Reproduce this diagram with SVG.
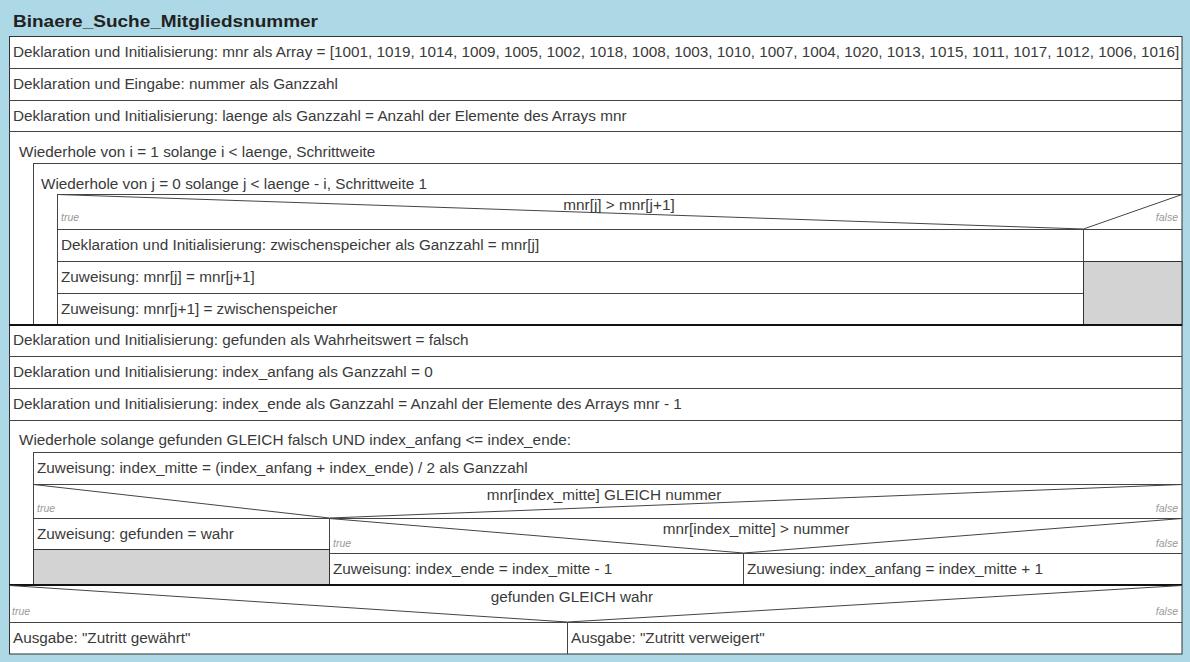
<svg xmlns="http://www.w3.org/2000/svg" width="1190" height="662" viewBox="0 0 1190 662">
<style>
.t{font-family:"Liberation Sans",Arial,sans-serif;font-size:15.3px;fill:#3a3a3a}
.ttl{font-family:"Liberation Sans",Arial,sans-serif;font-size:17px;font-weight:bold;fill:#222}
.lb{font-family:"Liberation Sans",Arial,sans-serif;font-size:10.5px;font-style:italic;fill:#999}
.c{text-anchor:middle}
.r{text-anchor:end}
.box{fill:#fff;stroke:#333;stroke-width:1}
.ln{stroke:#444;stroke-width:1;fill:none}
.thk{stroke:#111;stroke-width:2;fill:none}
.gray{fill:#d3d3d3;stroke:#333;stroke-width:1}
</style>
<rect x="0" y="0" width="1190" height="662" fill="#add8e6"/>
<text class="ttl" x="13" y="27" textLength="305" lengthAdjust="spacingAndGlyphs">Binaere_Suche_Mitgliedsnummer</text>
<rect class="box" x="9.5" y="36.5" width="1172.5" height="617.5"/>

<g id="decl_mnr">
<line class="ln" x1="9" y1="68.5" x2="1182" y2="68.5"/>
<text class="t" x="13" y="57">Deklaration und Initialisierung: mnr als Array = [1001, 1019, 1014, 1009, 1005, 1002, 1018, 1008, 1003, 1010, 1007, 1004, 1020, 1013, 1015, 1011, 1017, 1012, 1006, 1016]</text>
</g>
<g id="decl_nummer">
<line class="ln" x1="9" y1="100.5" x2="1182" y2="100.5"/>
<text class="t" x="13" y="89">Deklaration und Eingabe: nummer als Ganzzahl</text>
</g>
<g id="decl_laenge">
<line class="ln" x1="9" y1="131.5" x2="1182" y2="131.5"/>
<text class="t" x="13" y="121">Deklaration und Initialisierung: laenge als Ganzzahl = Anzahl der Elemente des Arrays mnr</text>
</g>

<g id="loop_i">
<text class="t" x="19" y="157">Wiederhole von i = 1 solange i &lt; laenge, Schrittweite</text>
<line class="ln" x1="33.5" y1="163" x2="33.5" y2="325"/>
</g>
<g id="loop_j">
<line class="ln" x1="33" y1="163.5" x2="1182" y2="163.5"/>
<text class="t" x="41" y="189">Wiederhole von j = 0 solange j &lt; laenge - i, Schrittweite 1</text>
<line class="ln" x1="57.5" y1="194" x2="57.5" y2="325"/>
</g>
<g id="if_swap">
<line class="ln" x1="57" y1="194.5" x2="1182" y2="194.5"/>
<polyline class="ln" points="57.5,194.5 1083.5,229 1182,194.5"/>
<line class="ln" x1="57" y1="229.5" x2="1182" y2="229.5"/>
<text class="t c" x="619" y="210">mnr[j] &gt; mnr[j+1]</text>
<text class="lb" x="61" y="221">true</text>
<text class="lb r" x="1178" y="221">false</text>
<line class="ln" x1="1083.5" y1="229" x2="1083.5" y2="325"/>
<rect class="gray" x="1083.5" y="261.5" width="98.5" height="63.5"/>
</g>
<g id="swap1">
<line class="ln" x1="57" y1="261.5" x2="1083" y2="261.5"/>
<text class="t" x="61" y="250">Deklaration und Initialisierung: zwischenspeicher als Ganzzahl = mnr[j]</text>
</g>
<g id="swap2">
<line class="ln" x1="57" y1="293.5" x2="1083" y2="293.5"/>
<text class="t" x="61" y="282">Zuweisung: mnr[j] = mnr[j+1]</text>
</g>
<g id="swap3">
<text class="t" x="61" y="314">Zuweisung: mnr[j+1] = zwischenspeicher</text>
</g>
<line class="thk" x1="9" y1="325" x2="1182" y2="325"/>

<g id="decl_gefunden">
<line class="ln" x1="9" y1="356.5" x2="1182" y2="356.5"/>
<text class="t" x="13" y="345">Deklaration und Initialisierung: gefunden als Wahrheitswert = falsch</text>
</g>
<g id="decl_anfang">
<line class="ln" x1="9" y1="388.5" x2="1182" y2="388.5"/>
<text class="t" x="13" y="377">Deklaration und Initialisierung: index_anfang als Ganzzahl = 0</text>
</g>
<g id="decl_ende">
<line class="ln" x1="9" y1="420.5" x2="1182" y2="420.5"/>
<text class="t" x="13" y="409">Deklaration und Initialisierung: index_ende als Ganzzahl = Anzahl der Elemente des Arrays mnr - 1</text>
</g>

<g id="loop_while">
<text class="t" x="19" y="445">Wiederhole solange gefunden GLEICH falsch UND index_anfang &lt;= index_ende:</text>
<line class="ln" x1="33" y1="452.5" x2="1182" y2="452.5"/>
<line class="ln" x1="33.5" y1="452" x2="33.5" y2="585"/>
</g>
<g id="calc_mitte">
<line class="ln" x1="33" y1="484.5" x2="1182" y2="484.5"/>
<text class="t" x="37" y="473">Zuweisung: index_mitte = (index_anfang + index_ende) / 2 als Ganzzahl</text>
</g>
<g id="if_gleich">
<polyline class="ln" points="33.5,484.5 329.5,518 1182,484.5"/>
<line class="ln" x1="33" y1="518.5" x2="1182" y2="518.5"/>
<text class="t c" x="604" y="500">mnr[index_mitte] GLEICH nummer</text>
<text class="lb" x="37" y="512">true</text>
<text class="lb r" x="1178" y="512">false</text>
<line class="ln" x1="329.5" y1="518" x2="329.5" y2="585"/>
</g>
<g id="set_gefunden">
<text class="t" x="37" y="539">Zuweisung: gefunden = wahr</text>
<rect class="gray" x="33.5" y="549.5" width="296" height="35.5"/>
</g>
<g id="if_groesser">
<polyline class="ln" points="329.5,518.5 743.5,553 1182,518.5"/>
<line class="ln" x1="329" y1="553.5" x2="1182" y2="553.5"/>
<text class="t c" x="756" y="534">mnr[index_mitte] &gt; nummer</text>
<text class="lb" x="333" y="547">true</text>
<text class="lb r" x="1178" y="547">false</text>
<line class="ln" x1="743.5" y1="553" x2="743.5" y2="585"/>
</g>
<g id="set_ende">
<text class="t" x="333" y="574">Zuweisung: index_ende = index_mitte - 1</text>
</g>
<g id="set_anfang">
<text class="t" x="747" y="574">Zuwesiung: index_anfang = index_mitte + 1</text>
</g>
<line class="thk" x1="9" y1="585" x2="1182" y2="585"/>

<g id="if_wahr">
<polyline class="ln" points="9.5,585.5 567.5,622 1182,585.5"/>
<line class="ln" x1="9" y1="622.5" x2="1182" y2="622.5"/>
<text class="t c" x="572" y="602">gefunden GLEICH wahr</text>
<text class="lb" x="12" y="615">true</text>
<text class="lb r" x="1178" y="615">false</text>
<line class="ln" x1="567.5" y1="622" x2="567.5" y2="654"/>
</g>
<g id="out_ok">
<text class="t" x="13" y="643">Ausgabe: "Zutritt gewährt"</text>
</g>
<g id="out_denied">
<text class="t" x="571" y="643">Ausgabe: "Zutritt verweigert"</text>
</g>
</svg>
